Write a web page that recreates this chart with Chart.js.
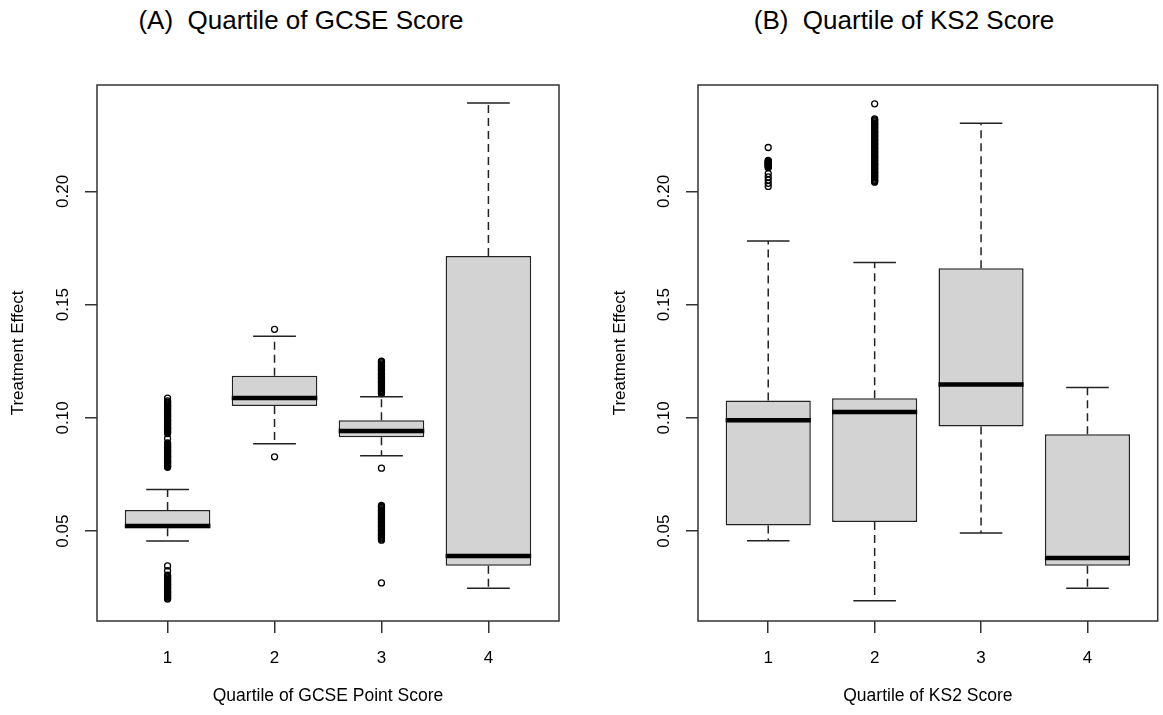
<!DOCTYPE html>
<html lang="en">

<head>
  <meta charset="UTF-8">
  <title>Treatment effect by quartile</title>
  <script src="https://cdn.jsdelivr.net/npm/chart.js"></script>
  <style>
    body {
      margin: 0;
      background: #fff;
      font-family: "Liberation Sans", Arial, sans-serif;
    }

    .wrap {
      position: relative;
      width: 1163px;
      height: 715px;
      overflow: hidden;
    }

    .hd {
      position: absolute;
      top: 6px;
      font-size: 26px;
      line-height: 28px;
      white-space: pre;
      color: #000;
      transform: translateX(-50%);
    }

    canvas {
      position: absolute;
      top: 0;
    }
  </style>
</head>

<body>
  <div class="wrap">
    <div class="hd" style="left:301px">(A)  Quartile of GCSE Score</div>
    <div class="hd" style="left:904px">(B)  Quartile of KS2 Score</div>
    <canvas id="g_a" width="580" height="715" style="left:0"></canvas>
    <canvas id="g_b" width="563" height="715" style="left:600px"></canvas>
  </div>

  <script>
    const quartiles = [1, 2, 3, 4];
    const yTicks = [0.05, 0.10, 0.15, 0.20];

    // (A) GCSE quartiles: whisker ends, hinges, medians
    const gcseLow = [0.0456, 0.0886, 0.0833, 0.0248];
    const gcseQ1 = [0.0513, 0.1052, 0.0915, 0.0347];
    const gcseMed = [0.0523, 0.1088, 0.0942, 0.0390];
    const gcseQ3 = [0.0593, 0.1186, 0.0990, 0.1715];
    const gcseHigh = [0.0684, 0.1360, 0.1093, 0.2390];
    const gcseOut = [
      [0.1087, 0.1075, 0.1070, 0.1066, 0.1061, 0.1056, 0.1052, 0.1048, 0.1043, 0.1038, 0.1034, 0.1030,
        0.1024, 0.1019, 0.1015, 0.1011, 0.1007, 0.1003, 0.0997, 0.0992, 0.0989, 0.0985, 0.0980, 0.0975,
        0.0971, 0.0967, 0.0961, 0.0956, 0.0953, 0.0949, 0.0944, 0.0940, 0.0935, 0.0931,
        0.0909, 0.0889, 0.0884, 0.0878, 0.0874, 0.0870, 0.0864, 0.0859, 0.0855, 0.0851, 0.0847, 0.0843,
        0.0837, 0.0832, 0.0829, 0.0825, 0.0819, 0.0814, 0.0810, 0.0806, 0.0802, 0.0798, 0.0793, 0.0789,
        0.0786, 0.0782,
        0.0346, 0.0325, 0.0305, 0.0301, 0.0297, 0.0292, 0.0287, 0.0283, 0.0279, 0.0273, 0.0268, 0.0264,
        0.0261, 0.0256, 0.0251, 0.0247, 0.0243, 0.0237, 0.0232, 0.0229, 0.0225, 0.0220, 0.0216, 0.0212,
        0.0208, 0.0204, 0.0200],
      [0.1391, 0.0828],
      [0.1251, 0.1247, 0.1243, 0.1237, 0.1232, 0.1229, 0.1225, 0.1220, 0.1215, 0.1211, 0.1207, 0.1201,
        0.1196, 0.1193, 0.1189, 0.1184, 0.1179, 0.1175, 0.1171, 0.1166, 0.1161, 0.1157, 0.1153, 0.1148,
        0.1143, 0.1139, 0.1135, 0.1129, 0.1124, 0.1120, 0.1116, 0.1111, 0.1107,
        0.0778,
        0.0613, 0.0609, 0.0605, 0.0599, 0.0594, 0.0591, 0.0587, 0.0582, 0.0577, 0.0573, 0.0569, 0.0563,
        0.0558, 0.0555, 0.0551, 0.0546, 0.0541, 0.0537, 0.0533, 0.0527, 0.0522, 0.0519, 0.0515, 0.0510,
        0.0505, 0.0501, 0.0497, 0.0491, 0.0486, 0.0483, 0.0479, 0.0474, 0.0469, 0.0465, 0.0460,
        0.0271],
      []
    ];

    // (B) KS2 quartiles
    const ks2Low = [0.0457, 0.0192, 0.0492, 0.0248];
    const ks2Q1 = [0.0525, 0.0540, 0.0962, 0.0347];
    const ks2Med = [0.0990, 0.1026, 0.1147, 0.0381];
    const ks2Q3 = [0.1077, 0.1087, 0.1661, 0.0928];
    const ks2High = [0.1781, 0.1686, 0.2301, 0.1134];
    const ks2Out = [
      [0.2194, 0.2137, 0.2134, 0.2131, 0.2128, 0.2125, 0.2122, 0.2119, 0.2115, 0.2112, 0.2108, 0.2105,
        0.2079, 0.2064, 0.2050, 0.2036, 0.2022],
      [0.2387, 0.2320, 0.2316, 0.2312, 0.2307, 0.2302, 0.2298, 0.2294, 0.2289, 0.2284, 0.2280, 0.2276,
        0.2270, 0.2265, 0.2262, 0.2258, 0.2253, 0.2248, 0.2244, 0.2240, 0.2234, 0.2229, 0.2226, 0.2222,
        0.2217, 0.2212, 0.2208, 0.2204, 0.2198, 0.2193, 0.2190, 0.2186, 0.2181, 0.2176, 0.2172, 0.2168,
        0.2162, 0.2157, 0.2154, 0.2150, 0.2145, 0.2140, 0.2136, 0.2132, 0.2126, 0.2121, 0.2118, 0.2114,
        0.2109, 0.2104, 0.2100, 0.2096, 0.2090, 0.2085, 0.2082, 0.2078, 0.2073, 0.2068, 0.2064, 0.2060,
        0.2054, 0.2049, 0.2045, 0.2041],
      [],
      []
    ];

    const yMin = 0.0103;
    const yMax = 0.2470;

    Chart.defaults.font.family = '"Liberation Sans", Arial, sans-serif';
    Chart.defaults.color = '#000';

    // whiskers, staples, medians and the plot frame, placed with the chart's scales
    const boxPlugin = {
      id: 'box',
      afterDatasetsDraw(chart) {
        const { ctx, chartArea: a, scales: { y } } = chart;
        const ds = chart.data.datasets[0];
        const st = ds.stats;
        const bars = chart.getDatasetMeta(0).data;
        ctx.save();
        bars.forEach((b, i) => {
          const cx = b.x, hw = b.width / 2, sw = b.width / 4;
          const y1 = y.getPixelForValue(ds.data[i].y[0]);
          const y3 = y.getPixelForValue(ds.data[i].y[1]);
          const yl = y.getPixelForValue(st.low[i]);
          const yh = y.getPixelForValue(st.high[i]);
          const ym = y.getPixelForValue(st.med[i]);
          ctx.strokeStyle = '#222';
          ctx.lineWidth = 1.5;
          ctx.setLineDash([8, 5]);
          ctx.beginPath();
          ctx.moveTo(cx, y3); ctx.lineTo(cx, yh);
          ctx.moveTo(cx, y1); ctx.lineTo(cx, yl);
          ctx.stroke();
          ctx.setLineDash([]);
          ctx.beginPath();
          ctx.moveTo(cx - sw, yh); ctx.lineTo(cx + sw, yh);
          ctx.moveTo(cx - sw, yl); ctx.lineTo(cx + sw, yl);
          ctx.stroke();
          ctx.strokeStyle = '#000';
          ctx.lineWidth = 4.5;
          ctx.beginPath();
          ctx.moveTo(cx - hw, ym); ctx.lineTo(cx + hw, ym);
          ctx.stroke();
        });
        ctx.strokeStyle = '#333';
        ctx.lineWidth = 1.5;
        ctx.strokeRect(a.left, a.top, a.right - a.left, a.bottom - a.top);
        ctx.restore();
      }
    };

    function c(id, xTitle, low, q1, med, q3, high, outs, yw, pr, tp) {
      return new Chart(document.getElementById(id), {
        type: 'bar',
        data: {
          datasets: [{
            type: 'bar',
            data: quartiles.map((q, i) => ({ x: q, y: [q1[i], q3[i]] })),
            backgroundColor: '#d3d3d3',
            borderColor: '#222',
            borderWidth: 1.5,
            borderSkipped: false,
            categoryPercentage: 1,
            barPercentage: 0.8,
            stats: { low, med, high }
          }, {
            type: 'scatter',
            data: outs.flatMap((o, i) => o.map(v => ({ x: quartiles[i], y: v }))),
            pointRadius: 3,
            pointBorderWidth: 1.3,
            borderColor: '#000',
            backgroundColor: 'rgba(0,0,0,0)'
          }]
        },
        options: {
          responsive: false,
          animation: false,
          layout: { padding: { left: 0, right: pr, top: 85, bottom: 0 } },
          plugins: { legend: { display: false }, tooltip: { enabled: false } },
          scales: {
            x: {
              type: 'linear',
              min: 0.34,
              max: 4.66,
              offset: false,
              afterBuildTicks: s => { s.ticks = quartiles.map(v => ({ value: v })); },
              afterFit: s => { s.height = 94; },
              grid: { offset: false, drawOnChartArea: false, tickLength: 12, color: '#333', lineWidth: 1.5 },
              border: { display: false },
              ticks: { padding: 15, font: { size: 17 }, color: '#000' },
              title: { display: true, text: xTitle, padding: { bottom: 8 }, font: { size: 17.5 }, color: '#000' }
            },
            y: {
              min: yMin,
              max: yMax,
              afterBuildTicks: s => { s.ticks = yTicks.map(v => ({ value: v })); },
              afterFit: s => { s.width = yw; },
              grid: { drawOnChartArea: false, tickLength: 12, color: '#333', lineWidth: 1.5 },
              border: { display: false },
              ticks: {
                minRotation: 90, maxRotation: 90, crossAlign: 'center', padding: 5,
                font: { size: 17 }, color: '#000',
                callback: v => v.toFixed(2)
              },
              title: { display: true, text: 'Treatment Effect', padding: { top: tp }, font: { size: 17 }, color: '#000' }
            }
          }
        },
        plugins: [boxPlugin]
      });
    }

    c('g_a', 'Quartile of GCSE Point Score', gcseLow, gcseQ1, gcseMed, gcseQ3, gcseHigh, gcseOut, 97, 21, 8);
    c('g_b', 'Quartile of KS2 Score', ks2Low, ks2Q1, ks2Med, ks2Q3, ks2High, ks2Out, 98, 1, 10);
  </script>
</body>

</html>
